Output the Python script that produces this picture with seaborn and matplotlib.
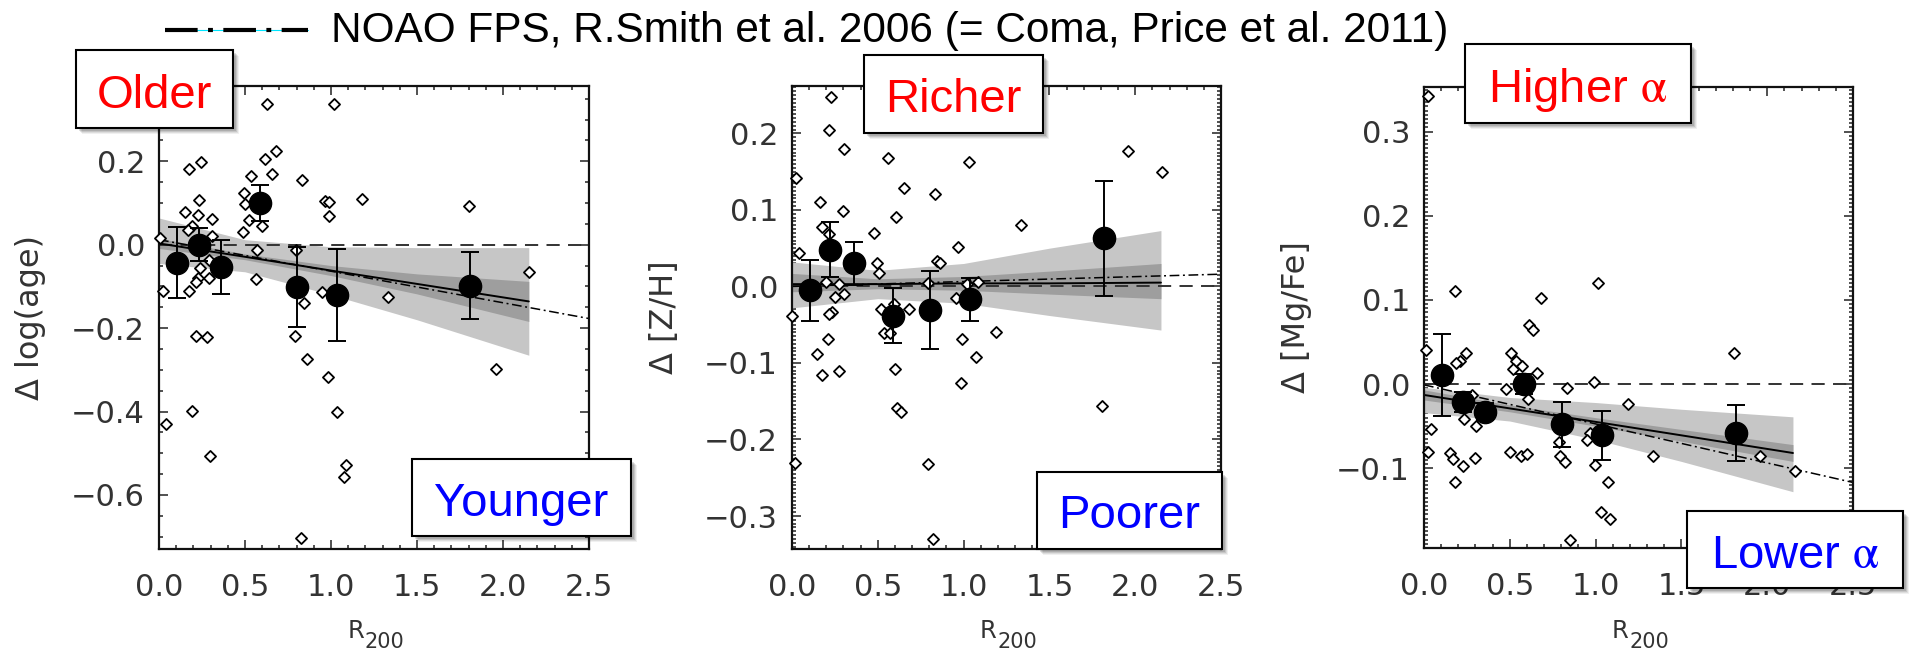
import matplotlib
matplotlib.use("Agg")
import matplotlib.pyplot as plt
import seaborn as sns
import pandas as pd
from matplotlib.patches import Rectangle
from matplotlib.lines import Line2D
from matplotlib.ticker import MultipleLocator, FuncFormatter

# ---------------- data ----------------
# individual galaxies, age residuals
age_r = [0.63, 1.016, 0.68, 0.617, 0.173, 0.242, 0.534, 0.658, 0.833, 0.494, 0.23, 0.499,
         0.966, 0.988, 1.182, 1.80, 0.15, 0.226, 0.306, 0.522, 0.988, 0.598, 0.19, 0.166,
         0.487, 0.306, 0.007, 0.57, 0.795, 0.29, 0.237, 0.565, 0.29, 0.226, 0.214, 0.173,
         0.024, 0.949, 0.845, 1.332, 2.153, 0.218, 0.278, 0.788, 0.86, 0.985, 1.959, 0.19,
         0.043, 1.033, 0.297, 1.087, 1.075, 0.826]
age_d = [0.338, 0.337, 0.225, 0.205, 0.182, 0.198, 0.164, 0.17, 0.156, 0.125, 0.107, 0.098,
         0.105, 0.103, 0.110, 0.092, 0.078, 0.072, 0.062, 0.06, 0.068, 0.046, 0.044, 0.036,
         0.03, 0.022, 0.015, -0.012, -0.012, -0.036, -0.056, -0.082, -0.081, -0.08, -0.09, -0.11,
         -0.11, -0.113, -0.14, -0.126, -0.066, -0.218, -0.221, -0.218, -0.274, -0.317, -0.298, -0.399,
         -0.431, -0.402, -0.507, -0.529, -0.557, -0.704]
# binned means, age
age_bin_r = [0.107, 0.23, 0.363, 0.586, 0.80, 1.035, 1.81]
age_bin_d = [-0.043, 0.0, -0.054, 0.100, -0.101, -0.12, -0.098]
age_bin_err = [0.085, 0.04, 0.065, 0.042, 0.096, 0.11, 0.08]

# individual galaxies, metallicity residuals
zh_r = [0.229, 0.214, 0.305, 0.562, 1.033, 1.96, 2.157, 0.026, 0.655, 0.833, 0.162, 0.298,
        0.607, 1.333, 0.174, 0.217, 0.479, 0.967, 0.043, 0.845, 0.86, 0.495, 0.507, 0.198,
        0.274, 0.793, 1.019, 1.086, 0.305, 0.252, 0.955, 0.233, 0.217, 0.519, 0.595, 0.679,
        0.002, 0.21, 0.143, 0.174, 0.274, 0.538, 0.571, 0.598, 0.614, 0.633, 0.988, 1.071,
        0.983, 1.186, 0.793, 0.019, 0.824, 1.805]
zh_d = [0.247, 0.204, 0.180, 0.168, 0.162, 0.177, 0.150, 0.142, 0.129, 0.121, 0.110, 0.099,
        0.091, 0.080, 0.078, 0.069, 0.070, 0.051, 0.044, 0.033, 0.030, 0.031, 0.017, 0.006,
        0.003, 0.004, 0.003, 0.006, -0.010, -0.014, -0.015, -0.033, -0.036, -0.030, -0.023, -0.030,
        -0.038, -0.069, -0.088, -0.116, -0.110, -0.061, -0.061, -0.108, -0.159, -0.164, -0.069, -0.092,
        -0.126, -0.059, -0.232, -0.231, -0.330, -0.156]
zh_bin_r = [0.105, 0.221, 0.36, 0.586, 0.805, 1.038, 1.817]
zh_bin_d = [-0.005, 0.048, 0.030, -0.038, -0.031, -0.017, 0.063]
zh_bin_err = [0.04, 0.036, 0.028, 0.036, 0.051, 0.028, 0.075]

# individual galaxies, alpha-enhancement residuals
mg_r = [0.026, 0.179, 0.679, 1.014, 0.614, 0.638, 0.012, 0.245, 0.209, 0.186, 0.507, 0.538,
        0.519, 0.571, 0.657, 1.805, 0.479, 0.833, 0.988, 0.607, 1.186, 0.281, 0.233, 0.305,
        0.043, 0.967, 0.948, 0.788, 0.026, 0.15, 0.167, 0.226, 0.298, 0.502, 0.566, 0.598,
        0.793, 0.824, 0.995, 1.333, 1.959, 2.162, 0.179, 1.074, 1.031, 1.086, 0.852]
mg_d = [0.342, 0.111, 0.102, 0.120, 0.070, 0.064, 0.040, 0.037, 0.027, 0.025, 0.037, 0.027,
        0.018, 0.021, 0.013, 0.037, -0.006, -0.005, 0.002, -0.018, -0.024, -0.013, -0.041, -0.05,
        -0.053, -0.058, -0.067, -0.069, -0.081, -0.082, -0.089, -0.098, -0.088, -0.081, -0.086, -0.083,
        -0.086, -0.093, -0.096, -0.086, -0.085, -0.103, -0.117, -0.117, -0.152, -0.161, -0.185]
mg_bin_r = [0.107, 0.226, 0.357, 0.583, 0.805, 1.038, 1.817]
mg_bin_d = [0.011, -0.021, -0.033, 0.0, -0.048, -0.061, -0.058]
mg_bin_err = [0.049, 0.012, 0.01, 0.012, 0.027, 0.029, 0.033]

# linear fit and its confidence bands, sampled along R200
band_r = [0.0, 0.5, 1.0, 1.5, 2.15]
age_fit = [0.003, -0.029, -0.062, -0.094, -0.136]
age_light_lo = [-0.045, -0.065, -0.120, -0.180, -0.265]
age_light_hi = [0.064, 0.012, -0.005, -0.007, -0.007]
age_dark_lo = [-0.009, -0.036, -0.074, -0.118, -0.184]
age_dark_hi = [0.015, -0.022, -0.050, -0.070, -0.088]

zh_fit = [0.003, 0.003, 0.004, 0.004, 0.005]
zh_light_lo = [-0.028, -0.016, -0.022, -0.038, -0.057]
zh_light_hi = [0.032, 0.021, 0.030, 0.050, 0.073]
zh_dark_lo = [-0.007, -0.003, -0.005, -0.010, -0.016]
zh_dark_hi = [0.017, 0.010, 0.013, 0.020, 0.030]

mg_fit = [-0.013, -0.029, -0.045, -0.061, -0.082]
mg_light_lo = [-0.034, -0.044, -0.066, -0.092, -0.128]
mg_light_hi = [-0.004, -0.016, -0.022, -0.030, -0.039]
mg_dark_lo = [-0.019, -0.033, -0.050, -0.068, -0.092]
mg_dark_hi = [-0.007, -0.025, -0.040, -0.054, -0.072]

# NOAO FPS relation (Smith et al. 2006)
noao_r = [0.0, 2.5]
age_noao = [0.012, -0.177]
zh_noao = [0.0, 0.016]
mg_noao = [-0.001, -0.117]

legend_text = "NOAO FPS, R.Smith et al. 2006 (= Coma, Price et al. 2011)"
y_labels = ["\u0394 log(age)", "\u0394 [Z/H]", "\u0394 [Mg/Fe]"]
upper_notes = ["Older", "Richer", "Higher $\\mathrm{\\alpha}$"]
lower_notes = ["Younger", "Poorer", "Lower $\\mathrm{\\alpha}$"]

# ---------------- style ----------------
sns.set_style("ticks")
plt.rcParams["font.family"] = ["DejaVu Sans"]
plt.rcParams["mathtext.fontset"] = "stix"
plt.rcParams["lines.scale_dashes"] = False

W, H = 1912, 652
fig = plt.figure(figsize=(W / 100, H / 100), dpi=100)


def fig_rect(x0, y0, x1, y1):
    return [x0 / W, 1 - y1 / H, (x1 - x0) / W, (y1 - y0) / H]


panels = [
    dict(rect=(159, 86, 589, 549), ylim=(-0.7296, 0.3805), ymaj=0.2, ymin=0.05,
         sc=(age_r, age_d), bins=(age_bin_r, age_bin_d, age_bin_err),
         fit=age_fit, light=(age_light_lo, age_light_hi), dark=(age_dark_lo, age_dark_hi),
         noao=age_noao),
    dict(rect=(792, 86, 1221, 549), ylim=(-0.3431, 0.2619), ymaj=0.1, ymin=0.005,
         sc=(zh_r, zh_d), bins=(zh_bin_r, zh_bin_d, zh_bin_err),
         fit=zh_fit, light=(zh_light_lo, zh_light_hi), dark=(zh_dark_lo, zh_dark_hi),
         noao=zh_noao),
    dict(rect=(1424, 87, 1853, 548), ylim=(-0.1949, 0.3530), ymaj=0.1, ymin=0.005,
         sc=(mg_r, mg_d), bins=(mg_bin_r, mg_bin_d, mg_bin_err),
         fit=mg_fit, light=(mg_light_lo, mg_light_hi), dark=(mg_dark_lo, mg_dark_hi),
         noao=mg_noao),
]

fmt = FuncFormatter(lambda v, _: f"{v:.1f}".replace("-0.0", "0.0").replace("-", "\u2212"))

for i, p in enumerate(panels):
    ax = fig.add_axes(fig_rect(*p["rect"]))
    ax.set_xlim(0, 2.5)
    ax.set_ylim(*p["ylim"])

    # confidence bands of the fit
    ax.fill_between(band_r, p["light"][0], p["light"][1], color="#c6c6c6", lw=0, zorder=1)
    ax.fill_between(band_r, p["dark"][0], p["dark"][1], color="#9e9e9e", lw=0, zorder=1.1)
    # zero reference
    ax.axhline(0, color="#333333", lw=1.4, ls=(0, (9.5, 6)), zorder=1.2)
    # fit and the NOAO relation
    ax.plot(band_r, p["fit"], color="black", lw=1.4, zorder=2)
    ax.plot(noao_r, p["noao"], color="black", lw=1.1, ls=(0, (7, 2.6, 1.4, 2.6)), zorder=2.1)

    # individual galaxies
    df = pd.DataFrame({"r": p["sc"][0], "d": p["sc"][1]})
    sns.scatterplot(data=df, x="r", y="d", marker="D", s=32, facecolor="white",
                    edgecolor="black", linewidth=1.3, ax=ax, zorder=3, clip_on=False)

    # binned means
    ax.errorbar(p["bins"][0], p["bins"][1], yerr=p["bins"][2], fmt="o", color="black",
                ms=16, elinewidth=1.4, capsize=6.5, capthick=1.4, zorder=4)

    ax.set_xlabel("")
    ax.set_ylabel(y_labels[i], fontsize=23, color="#333333")
    ax.yaxis.set_label_coords(-0.262, 0.5)

    ax.xaxis.set_major_locator(MultipleLocator(0.5))
    ax.xaxis.set_minor_locator(MultipleLocator(0.1))
    ax.yaxis.set_major_locator(MultipleLocator(p["ymaj"]))
    ax.yaxis.set_minor_locator(MultipleLocator(p["ymin"]))
    ax.xaxis.set_major_formatter(fmt)
    ax.yaxis.set_major_formatter(fmt)
    ax.tick_params(which="both", direction="in", top=True, right=True, color="#222222",
                   width=1.1, labelsize=22, labelcolor="#333333")
    ax.tick_params(which="major", length=6.5)
    ax.tick_params(which="minor", length=3.2)
    ax.tick_params(axis="x", pad=17)
    ax.tick_params(axis="y", pad=10)
    for s in ax.spines.values():
        s.set_linewidth(1.6)
        s.set_color("#111111")

    # R200 axis label
    x0, y0, x1, y1 = p["rect"]
    cx = (x0 + x1) / 2
    fig.text((cx - 10) / W, 1 - 638 / H, "R", ha="right", va="baseline", fontsize=17.5,
             color="#333333")
    fig.text((cx - 9) / W, 1 - 648 / H, "200", ha="left", va="baseline", fontsize=15,
             color="#333333")


# labelled boxes with soft drop shadow
def note_box(x0, y0, x1, y1, text, color):
    for k, a in zip([6, 5, 4, 3], [0.06, 0.08, 0.1, 0.12]):
        fig.add_artist(Rectangle((x0 / W + k / W, 1 - y1 / H - k / H), (x1 - x0) / W,
                                 (y1 - y0) / H, transform=fig.transFigure,
                                 facecolor="black", alpha=a, lw=0, zorder=9))
    fig.add_artist(Rectangle((x0 / W, 1 - y1 / H), (x1 - x0) / W, (y1 - y0) / H,
                             transform=fig.transFigure, facecolor="white",
                             edgecolor="black", lw=1.5, zorder=10))
    fig.text((x0 + x1) / 2 / W, 1 - (y1 - 20.5) / H, text, color=color, fontsize=34,
             family="Liberation Sans", ha="center", va="baseline", zorder=11)


note_box(76, 50, 233, 128, upper_notes[0], "#ff0000")
note_box(412, 459, 631, 536, lower_notes[0], "#0000ff")
note_box(864, 55, 1043, 133, upper_notes[1], "#ff0000")
note_box(1037, 472, 1222, 549, lower_notes[1], "#0000ff")
note_box(1465, 44, 1691, 123, upper_notes[2], "#ff0000")
note_box(1687, 511, 1903, 588, lower_notes[2], "#0000ff")

# legend line for the NOAO relation
fig.add_artist(Line2D([165 / W, 308 / W], [1 - 30 / H, 1 - 30 / H], color="#00e5ff", lw=0.8,
                      transform=fig.transFigure, zorder=5))
fig.add_artist(Line2D([165 / W, 308 / W], [1 - 30 / H, 1 - 30 / H], color="black", lw=3,
                      ls=(0, (23.5, 7.5, 3.5, 7.5)), solid_capstyle="butt",
                      dash_capstyle="butt", transform=fig.transFigure, zorder=6))
fig.text(331 / W, 1 - 42 / H, legend_text, fontsize=30.5, family="Liberation Sans",
         color="black", ha="left", va="baseline")

fig.savefig("out.png", dpi=100)
